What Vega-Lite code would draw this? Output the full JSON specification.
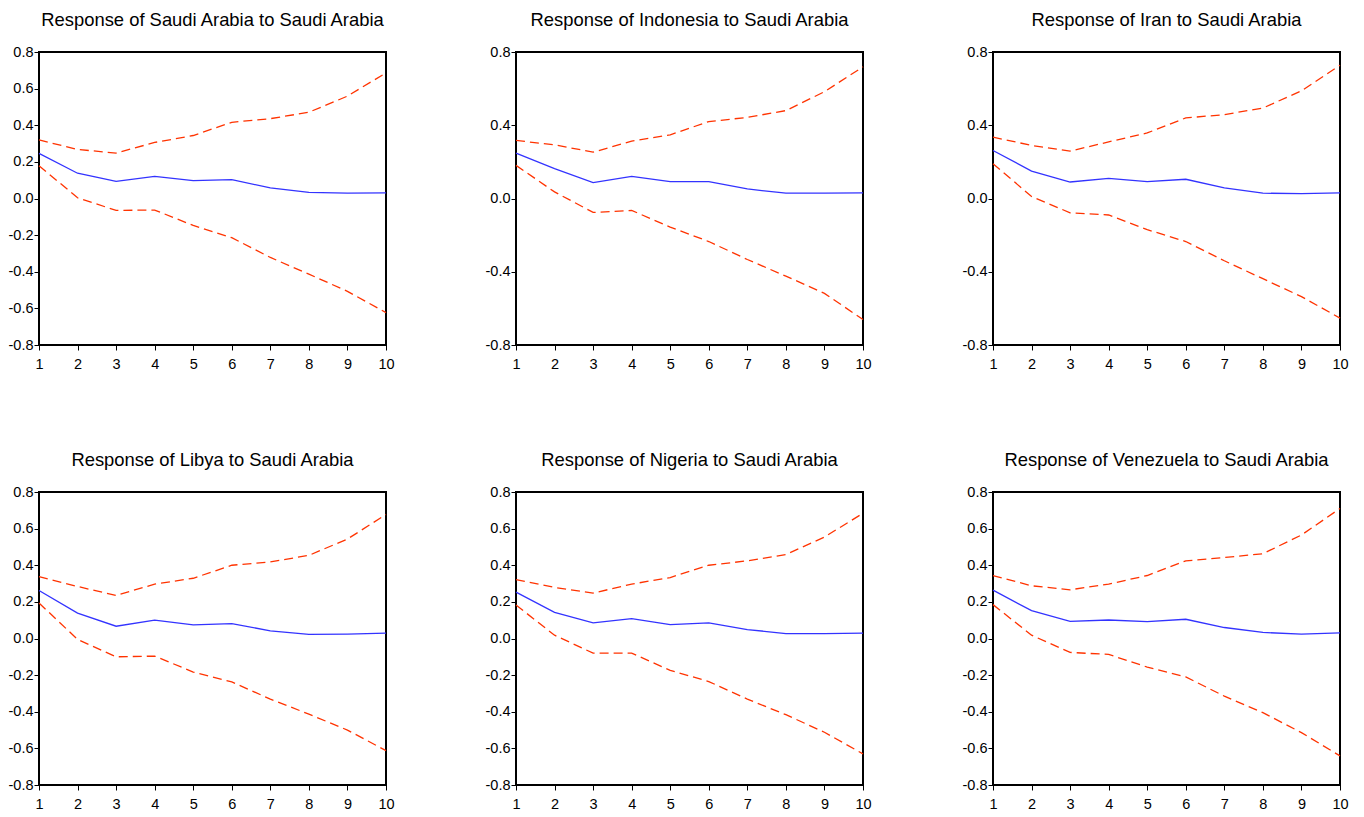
{
  "$schema": "https://vega.github.io/schema/vega-lite/v6.json",
  "padding": {"left": 7, "top": 9, "right": 5, "bottom": 5},
  "background": "white",
  "config": {
    "view": {"stroke": "black", "strokeWidth": 2},
    "font": "Liberation Sans",
    "axis": {"grid": false, "domain": false, "tickColor": "black", "tickSize": 5, "tickWidth": 1, "labelColor": "black", "labelFont": "Liberation Sans", "labelFontSize": 14.5, "labelOverlap": false, "title": null},
    "title": {"font": "Liberation Sans", "fontSize": 18.4, "fontWeight": "normal", "color": "black", "anchor": "middle", "frame": "group", "offset": 15, "baseline": "alphabetic"}
  },
  "datasets": {
    "irf": [
      {"panel": "SA", "step": 1, "resp": 0.246, "lo": 0.179, "hi": 0.320},
      {"panel": "SA", "step": 2, "resp": 0.138, "lo": 0.004, "hi": 0.268},
      {"panel": "SA", "step": 3, "resp": 0.094, "lo": -0.065, "hi": 0.248},
      {"panel": "SA", "step": 4, "resp": 0.121, "lo": -0.063, "hi": 0.306},
      {"panel": "SA", "step": 5, "resp": 0.098, "lo": -0.147, "hi": 0.344},
      {"panel": "SA", "step": 6, "resp": 0.103, "lo": -0.214, "hi": 0.416},
      {"panel": "SA", "step": 7, "resp": 0.058, "lo": -0.322, "hi": 0.436},
      {"panel": "SA", "step": 8, "resp": 0.033, "lo": -0.413, "hi": 0.471},
      {"panel": "SA", "step": 9, "resp": 0.029, "lo": -0.507, "hi": 0.559},
      {"panel": "SA", "step": 10, "resp": 0.031, "lo": -0.623, "hi": 0.686},
      {"panel": "ID", "step": 1, "resp": 0.248, "lo": 0.181, "hi": 0.317},
      {"panel": "ID", "step": 2, "resp": 0.163, "lo": 0.036, "hi": 0.293},
      {"panel": "ID", "step": 3, "resp": 0.087, "lo": -0.076, "hi": 0.253},
      {"panel": "ID", "step": 4, "resp": 0.121, "lo": -0.065, "hi": 0.313},
      {"panel": "ID", "step": 5, "resp": 0.092, "lo": -0.156, "hi": 0.348},
      {"panel": "ID", "step": 6, "resp": 0.092, "lo": -0.235, "hi": 0.420},
      {"panel": "ID", "step": 7, "resp": 0.052, "lo": -0.333, "hi": 0.443},
      {"panel": "ID", "step": 8, "resp": 0.029, "lo": -0.424, "hi": 0.480},
      {"panel": "ID", "step": 9, "resp": 0.029, "lo": -0.518, "hi": 0.583},
      {"panel": "ID", "step": 10, "resp": 0.031, "lo": -0.661, "hi": 0.719},
      {"panel": "IR", "step": 1, "resp": 0.262, "lo": 0.190, "hi": 0.335},
      {"panel": "IR", "step": 2, "resp": 0.150, "lo": 0.011, "hi": 0.290},
      {"panel": "IR", "step": 3, "resp": 0.090, "lo": -0.078, "hi": 0.259},
      {"panel": "IR", "step": 4, "resp": 0.110, "lo": -0.090, "hi": 0.309},
      {"panel": "IR", "step": 5, "resp": 0.092, "lo": -0.170, "hi": 0.358},
      {"panel": "IR", "step": 6, "resp": 0.105, "lo": -0.235, "hi": 0.440},
      {"panel": "IR", "step": 7, "resp": 0.058, "lo": -0.340, "hi": 0.458},
      {"panel": "IR", "step": 8, "resp": 0.029, "lo": -0.438, "hi": 0.494},
      {"panel": "IR", "step": 9, "resp": 0.027, "lo": -0.536, "hi": 0.588},
      {"panel": "IR", "step": 10, "resp": 0.031, "lo": -0.653, "hi": 0.728},
      {"panel": "LY", "step": 1, "resp": 0.262, "lo": 0.194, "hi": 0.338},
      {"panel": "LY", "step": 2, "resp": 0.139, "lo": -0.005, "hi": 0.284},
      {"panel": "LY", "step": 3, "resp": 0.067, "lo": -0.100, "hi": 0.235},
      {"panel": "LY", "step": 4, "resp": 0.100, "lo": -0.096, "hi": 0.297},
      {"panel": "LY", "step": 5, "resp": 0.074, "lo": -0.183, "hi": 0.329},
      {"panel": "LY", "step": 6, "resp": 0.081, "lo": -0.237, "hi": 0.400},
      {"panel": "LY", "step": 7, "resp": 0.042, "lo": -0.331, "hi": 0.418},
      {"panel": "LY", "step": 8, "resp": 0.022, "lo": -0.413, "hi": 0.454},
      {"panel": "LY", "step": 9, "resp": 0.024, "lo": -0.500, "hi": 0.543},
      {"panel": "LY", "step": 10, "resp": 0.029, "lo": -0.612, "hi": 0.677},
      {"panel": "NG", "step": 1, "resp": 0.253, "lo": 0.183, "hi": 0.322},
      {"panel": "NG", "step": 2, "resp": 0.143, "lo": 0.018, "hi": 0.279},
      {"panel": "NG", "step": 3, "resp": 0.085, "lo": -0.080, "hi": 0.248},
      {"panel": "NG", "step": 4, "resp": 0.109, "lo": -0.080, "hi": 0.297},
      {"panel": "NG", "step": 5, "resp": 0.076, "lo": -0.174, "hi": 0.333},
      {"panel": "NG", "step": 6, "resp": 0.085, "lo": -0.235, "hi": 0.400},
      {"panel": "NG", "step": 7, "resp": 0.049, "lo": -0.331, "hi": 0.424},
      {"panel": "NG", "step": 8, "resp": 0.027, "lo": -0.416, "hi": 0.458},
      {"panel": "NG", "step": 9, "resp": 0.027, "lo": -0.512, "hi": 0.554},
      {"panel": "NG", "step": 10, "resp": 0.029, "lo": -0.630, "hi": 0.684},
      {"panel": "VE", "step": 1, "resp": 0.264, "lo": 0.185, "hi": 0.344},
      {"panel": "VE", "step": 2, "resp": 0.152, "lo": 0.018, "hi": 0.288},
      {"panel": "VE", "step": 3, "resp": 0.094, "lo": -0.076, "hi": 0.266},
      {"panel": "VE", "step": 4, "resp": 0.101, "lo": -0.087, "hi": 0.297},
      {"panel": "VE", "step": 5, "resp": 0.092, "lo": -0.156, "hi": 0.344},
      {"panel": "VE", "step": 6, "resp": 0.105, "lo": -0.210, "hi": 0.424},
      {"panel": "VE", "step": 7, "resp": 0.060, "lo": -0.315, "hi": 0.442},
      {"panel": "VE", "step": 8, "resp": 0.033, "lo": -0.405, "hi": 0.463},
      {"panel": "VE", "step": 9, "resp": 0.024, "lo": -0.514, "hi": 0.565},
      {"panel": "VE", "step": 10, "resp": 0.031, "lo": -0.641, "hi": 0.710}
    ]
  },
  "columns": 3,
  "spacing": {"row": 147, "column": 130},
  "bounds": "flush",
  "concat": [
    {
      "title": "Response of Saudi Arabia to Saudi Arabia",
      "width": 347, "height": 293,
      "data": {"name": "irf"},
      "transform": [{"filter": "datum.panel === 'SA'"}],
      "encoding": {
        "x": {"field": "step", "type": "quantitative", "scale": {"domain": [1, 10], "nice": false, "zero": false}, "axis": {"values": [1,2,3,4,5,6,7,8,9,10], "format": "d", "labelFlush": false, "labelPadding": 7}}
      },
      "layer": [
        {"mark": {"type": "line", "color": "#ff3300", "strokeWidth": 1.3, "strokeDash": [9, 5]}, "encoding": {"y": {"field": "hi", "type": "quantitative", "scale": {"domain": [-0.8, 0.8], "nice": false}, "axis": {"values": [-0.8,-0.6,-0.4,-0.2,0,0.2,0.4,0.6,0.8], "format": ".1f", "labelExpr": "replace(datum.label, '\u2212', '-')", "labelPadding": 1}}}},
        {"mark": {"type": "line", "color": "#ff3300", "strokeWidth": 1.3, "strokeDash": [9, 5]}, "encoding": {"y": {"field": "lo", "type": "quantitative", "scale": {"domain": [-0.8, 0.8], "nice": false}, "axis": {"values": [-0.8,-0.6,-0.4,-0.2,0,0.2,0.4,0.6,0.8], "format": ".1f", "labelExpr": "replace(datum.label, '\u2212', '-')", "labelPadding": 1}}}},
        {"mark": {"type": "line", "color": "#3333ff", "strokeWidth": 1.3}, "encoding": {"y": {"field": "resp", "type": "quantitative", "scale": {"domain": [-0.8, 0.8], "nice": false}, "axis": {"values": [-0.8,-0.6,-0.4,-0.2,0,0.2,0.4,0.6,0.8], "format": ".1f", "labelExpr": "replace(datum.label, '\u2212', '-')", "labelPadding": 1}}}},
        {"mark": {"type": "rule", "color": "black", "strokeWidth": 1}, "encoding": {"y": {"datum": 0, "type": "quantitative", "scale": {"domain": [-0.8, 0.8], "nice": false}, "axis": {"values": [-0.8,-0.6,-0.4,-0.2,0,0.2,0.4,0.6,0.8], "format": ".1f", "labelExpr": "replace(datum.label, '\u2212', '-')", "labelPadding": 1}}}}
      ]
    },
    {
      "title": "Response of Indonesia to Saudi Arabia",
      "width": 347, "height": 293,
      "data": {"name": "irf"},
      "transform": [{"filter": "datum.panel === 'ID'"}],
      "encoding": {
        "x": {"field": "step", "type": "quantitative", "scale": {"domain": [1, 10], "nice": false, "zero": false}, "axis": {"values": [1,2,3,4,5,6,7,8,9,10], "format": "d", "labelFlush": false, "labelPadding": 7}}
      },
      "layer": [
        {"mark": {"type": "line", "color": "#ff3300", "strokeWidth": 1.3, "strokeDash": [9, 5]}, "encoding": {"y": {"field": "hi", "type": "quantitative", "scale": {"domain": [-0.8, 0.8], "nice": false}, "axis": {"values": [-0.8,-0.4,0,0.4,0.8], "format": ".1f", "labelExpr": "replace(datum.label, '\u2212', '-')", "labelPadding": 1}}}},
        {"mark": {"type": "line", "color": "#ff3300", "strokeWidth": 1.3, "strokeDash": [9, 5]}, "encoding": {"y": {"field": "lo", "type": "quantitative", "scale": {"domain": [-0.8, 0.8], "nice": false}, "axis": {"values": [-0.8,-0.4,0,0.4,0.8], "format": ".1f", "labelExpr": "replace(datum.label, '\u2212', '-')", "labelPadding": 1}}}},
        {"mark": {"type": "line", "color": "#3333ff", "strokeWidth": 1.3}, "encoding": {"y": {"field": "resp", "type": "quantitative", "scale": {"domain": [-0.8, 0.8], "nice": false}, "axis": {"values": [-0.8,-0.4,0,0.4,0.8], "format": ".1f", "labelExpr": "replace(datum.label, '\u2212', '-')", "labelPadding": 1}}}},
        {"mark": {"type": "rule", "color": "black", "strokeWidth": 1}, "encoding": {"y": {"datum": 0, "type": "quantitative", "scale": {"domain": [-0.8, 0.8], "nice": false}, "axis": {"values": [-0.8,-0.4,0,0.4,0.8], "format": ".1f", "labelExpr": "replace(datum.label, '\u2212', '-')", "labelPadding": 1}}}}
      ]
    },
    {
      "title": "Response of Iran to Saudi Arabia",
      "width": 347, "height": 293,
      "data": {"name": "irf"},
      "transform": [{"filter": "datum.panel === 'IR'"}],
      "encoding": {
        "x": {"field": "step", "type": "quantitative", "scale": {"domain": [1, 10], "nice": false, "zero": false}, "axis": {"values": [1,2,3,4,5,6,7,8,9,10], "format": "d", "labelFlush": false, "labelPadding": 7}}
      },
      "layer": [
        {"mark": {"type": "line", "color": "#ff3300", "strokeWidth": 1.3, "strokeDash": [9, 5]}, "encoding": {"y": {"field": "hi", "type": "quantitative", "scale": {"domain": [-0.8, 0.8], "nice": false}, "axis": {"values": [-0.8,-0.4,0,0.4,0.8], "format": ".1f", "labelExpr": "replace(datum.label, '\u2212', '-')", "labelPadding": 1}}}},
        {"mark": {"type": "line", "color": "#ff3300", "strokeWidth": 1.3, "strokeDash": [9, 5]}, "encoding": {"y": {"field": "lo", "type": "quantitative", "scale": {"domain": [-0.8, 0.8], "nice": false}, "axis": {"values": [-0.8,-0.4,0,0.4,0.8], "format": ".1f", "labelExpr": "replace(datum.label, '\u2212', '-')", "labelPadding": 1}}}},
        {"mark": {"type": "line", "color": "#3333ff", "strokeWidth": 1.3}, "encoding": {"y": {"field": "resp", "type": "quantitative", "scale": {"domain": [-0.8, 0.8], "nice": false}, "axis": {"values": [-0.8,-0.4,0,0.4,0.8], "format": ".1f", "labelExpr": "replace(datum.label, '\u2212', '-')", "labelPadding": 1}}}},
        {"mark": {"type": "rule", "color": "black", "strokeWidth": 1}, "encoding": {"y": {"datum": 0, "type": "quantitative", "scale": {"domain": [-0.8, 0.8], "nice": false}, "axis": {"values": [-0.8,-0.4,0,0.4,0.8], "format": ".1f", "labelExpr": "replace(datum.label, '\u2212', '-')", "labelPadding": 1}}}}
      ]
    },
    {
      "title": "Response of Libya to Saudi Arabia",
      "width": 347, "height": 293,
      "data": {"name": "irf"},
      "transform": [{"filter": "datum.panel === 'LY'"}],
      "encoding": {
        "x": {"field": "step", "type": "quantitative", "scale": {"domain": [1, 10], "nice": false, "zero": false}, "axis": {"values": [1,2,3,4,5,6,7,8,9,10], "format": "d", "labelFlush": false, "labelPadding": 7}}
      },
      "layer": [
        {"mark": {"type": "line", "color": "#ff3300", "strokeWidth": 1.3, "strokeDash": [9, 5]}, "encoding": {"y": {"field": "hi", "type": "quantitative", "scale": {"domain": [-0.8, 0.8], "nice": false}, "axis": {"values": [-0.8,-0.6,-0.4,-0.2,0,0.2,0.4,0.6,0.8], "format": ".1f", "labelExpr": "replace(datum.label, '\u2212', '-')", "labelPadding": 1}}}},
        {"mark": {"type": "line", "color": "#ff3300", "strokeWidth": 1.3, "strokeDash": [9, 5]}, "encoding": {"y": {"field": "lo", "type": "quantitative", "scale": {"domain": [-0.8, 0.8], "nice": false}, "axis": {"values": [-0.8,-0.6,-0.4,-0.2,0,0.2,0.4,0.6,0.8], "format": ".1f", "labelExpr": "replace(datum.label, '\u2212', '-')", "labelPadding": 1}}}},
        {"mark": {"type": "line", "color": "#3333ff", "strokeWidth": 1.3}, "encoding": {"y": {"field": "resp", "type": "quantitative", "scale": {"domain": [-0.8, 0.8], "nice": false}, "axis": {"values": [-0.8,-0.6,-0.4,-0.2,0,0.2,0.4,0.6,0.8], "format": ".1f", "labelExpr": "replace(datum.label, '\u2212', '-')", "labelPadding": 1}}}},
        {"mark": {"type": "rule", "color": "black", "strokeWidth": 1}, "encoding": {"y": {"datum": 0, "type": "quantitative", "scale": {"domain": [-0.8, 0.8], "nice": false}, "axis": {"values": [-0.8,-0.6,-0.4,-0.2,0,0.2,0.4,0.6,0.8], "format": ".1f", "labelExpr": "replace(datum.label, '\u2212', '-')", "labelPadding": 1}}}}
      ]
    },
    {
      "title": "Response of Nigeria to Saudi Arabia",
      "width": 347, "height": 293,
      "data": {"name": "irf"},
      "transform": [{"filter": "datum.panel === 'NG'"}],
      "encoding": {
        "x": {"field": "step", "type": "quantitative", "scale": {"domain": [1, 10], "nice": false, "zero": false}, "axis": {"values": [1,2,3,4,5,6,7,8,9,10], "format": "d", "labelFlush": false, "labelPadding": 7}}
      },
      "layer": [
        {"mark": {"type": "line", "color": "#ff3300", "strokeWidth": 1.3, "strokeDash": [9, 5]}, "encoding": {"y": {"field": "hi", "type": "quantitative", "scale": {"domain": [-0.8, 0.8], "nice": false}, "axis": {"values": [-0.8,-0.6,-0.4,-0.2,0,0.2,0.4,0.6,0.8], "format": ".1f", "labelExpr": "replace(datum.label, '\u2212', '-')", "labelPadding": 1}}}},
        {"mark": {"type": "line", "color": "#ff3300", "strokeWidth": 1.3, "strokeDash": [9, 5]}, "encoding": {"y": {"field": "lo", "type": "quantitative", "scale": {"domain": [-0.8, 0.8], "nice": false}, "axis": {"values": [-0.8,-0.6,-0.4,-0.2,0,0.2,0.4,0.6,0.8], "format": ".1f", "labelExpr": "replace(datum.label, '\u2212', '-')", "labelPadding": 1}}}},
        {"mark": {"type": "line", "color": "#3333ff", "strokeWidth": 1.3}, "encoding": {"y": {"field": "resp", "type": "quantitative", "scale": {"domain": [-0.8, 0.8], "nice": false}, "axis": {"values": [-0.8,-0.6,-0.4,-0.2,0,0.2,0.4,0.6,0.8], "format": ".1f", "labelExpr": "replace(datum.label, '\u2212', '-')", "labelPadding": 1}}}},
        {"mark": {"type": "rule", "color": "black", "strokeWidth": 1}, "encoding": {"y": {"datum": 0, "type": "quantitative", "scale": {"domain": [-0.8, 0.8], "nice": false}, "axis": {"values": [-0.8,-0.6,-0.4,-0.2,0,0.2,0.4,0.6,0.8], "format": ".1f", "labelExpr": "replace(datum.label, '\u2212', '-')", "labelPadding": 1}}}}
      ]
    },
    {
      "title": "Response of Venezuela to Saudi Arabia",
      "width": 347, "height": 293,
      "data": {"name": "irf"},
      "transform": [{"filter": "datum.panel === 'VE'"}],
      "encoding": {
        "x": {"field": "step", "type": "quantitative", "scale": {"domain": [1, 10], "nice": false, "zero": false}, "axis": {"values": [1,2,3,4,5,6,7,8,9,10], "format": "d", "labelFlush": false, "labelPadding": 7}}
      },
      "layer": [
        {"mark": {"type": "line", "color": "#ff3300", "strokeWidth": 1.3, "strokeDash": [9, 5]}, "encoding": {"y": {"field": "hi", "type": "quantitative", "scale": {"domain": [-0.8, 0.8], "nice": false}, "axis": {"values": [-0.8,-0.6,-0.4,-0.2,0,0.2,0.4,0.6,0.8], "format": ".1f", "labelExpr": "replace(datum.label, '\u2212', '-')", "labelPadding": 1}}}},
        {"mark": {"type": "line", "color": "#ff3300", "strokeWidth": 1.3, "strokeDash": [9, 5]}, "encoding": {"y": {"field": "lo", "type": "quantitative", "scale": {"domain": [-0.8, 0.8], "nice": false}, "axis": {"values": [-0.8,-0.6,-0.4,-0.2,0,0.2,0.4,0.6,0.8], "format": ".1f", "labelExpr": "replace(datum.label, '\u2212', '-')", "labelPadding": 1}}}},
        {"mark": {"type": "line", "color": "#3333ff", "strokeWidth": 1.3}, "encoding": {"y": {"field": "resp", "type": "quantitative", "scale": {"domain": [-0.8, 0.8], "nice": false}, "axis": {"values": [-0.8,-0.6,-0.4,-0.2,0,0.2,0.4,0.6,0.8], "format": ".1f", "labelExpr": "replace(datum.label, '\u2212', '-')", "labelPadding": 1}}}},
        {"mark": {"type": "rule", "color": "black", "strokeWidth": 1}, "encoding": {"y": {"datum": 0, "type": "quantitative", "scale": {"domain": [-0.8, 0.8], "nice": false}, "axis": {"values": [-0.8,-0.6,-0.4,-0.2,0,0.2,0.4,0.6,0.8], "format": ".1f", "labelExpr": "replace(datum.label, '\u2212', '-')", "labelPadding": 1}}}}
      ]
    }
  ]
}
